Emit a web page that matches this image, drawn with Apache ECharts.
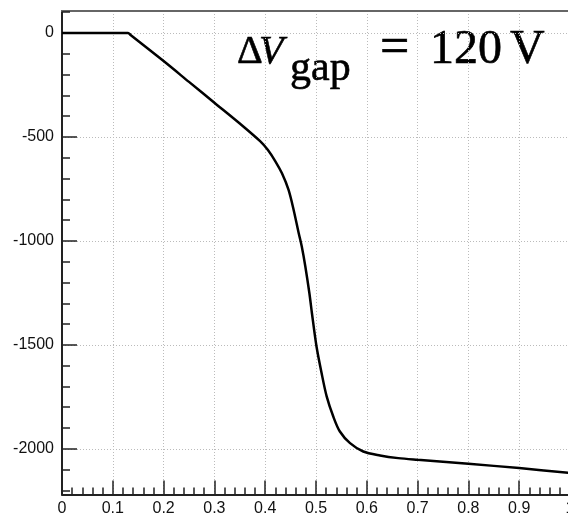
<!DOCTYPE html>
<html>
<head>
<meta charset="utf-8">
<script src="https://cdn.jsdelivr.net/npm/echarts@6/dist/echarts.min.js"></script>
<style>
html,body{margin:0;padding:0;background:#fff;}
#c{width:568px;height:515px;}
</style>
</head>
<body>
<div id="c"></div>
<script>
var xValues = [0, 0.125, 0.13, 0.135, 0.2, 0.25, 0.3, 0.35, 0.39, 0.405, 0.42, 0.433, 0.446, 0.456, 0.466, 0.472, 0.479, 0.487, 0.492, 0.501, 0.511, 0.521, 0.534, 0.547, 0.567, 0.593, 0.626, 0.662, 0.70, 0.80, 0.90, 1.0];
var yValues = [0, 0, 0, -9, -135, -235, -335, -435, -520, -562, -617, -675, -755, -851, -963, -1027, -1123, -1252, -1348, -1508, -1636, -1748, -1845, -1917, -1973, -2013, -2032, -2045, -2053, -2072, -2093, -2116];
var yMajorTicks = [-2000, -1500, -1000, -500, 0];
var yMinorTicks = [-2200, -2100, -1900, -1800, -1700, -1600, -1400, -1300, -1200, -1100, -900, -800, -700, -600, -400, -300, -200, -100, 100];
var yMin = -2220, yMax = 106;

var chart = echarts.init(document.getElementById('c'), null, {renderer: 'canvas'});
var data = xValues.map(function (x, i) { return [x, yValues[i]]; });
var labelFont = {fontFamily: 'Liberation Sans', fontSize: 16, color: '#111'};
var serif = 'Liberation Serif';
function txt(t, x, y, size, italic) {
  return {type: 'text', x: x, y: y, style: {text: t, fontFamily: serif, fontStyle: italic ? 'italic' : 'normal', fontSize: size, fill: '#000', stroke: '#000', lineWidth: 0.6, textAlign: 'left', textVerticalAlign: 'middle'}};
}

chart.setOption({
  animation: false,
  grid: {left: 62, top: 11, width: 508, bottom: 20.5, containLabel: false, outerBoundsMode: 'none'},
  xAxis: [{
    type: 'value', min: 0, max: 1, interval: 0.1,
    axisLine: {show: true, onZero: false, lineStyle: {color: '#222', width: 2}},
    axisTick: {show: true, inside: true, length: 14, lineStyle: {color: '#222', width: 1.5}},
    minorTick: {show: true, splitNumber: 5, length: 7, lineStyle: {color: '#222', width: 1.5}},
    axisLabel: Object.assign({margin: 6, formatter: function (v) { return String(Math.round(v * 10) / 10); }, showMinLabel: true, showMaxLabel: true}, labelFont),
    splitLine: {show: true, lineStyle: {color: '#bbb', type: [1, 2], width: 1}}
  }, {
    type: 'value', min: 0, max: 1, position: 'top',
    axisLine: {show: true, onZero: false, lineStyle: {color: '#666', width: 2}},
    axisTick: {show: false}, axisLabel: {show: false}, splitLine: {show: false}
  }],
  yAxis: [{
    type: 'value', min: yMin, max: yMax, position: 'left',
    axisLine: {show: true, onZero: false, lineStyle: {color: '#222', width: 2}},
    axisTick: {show: true, inside: true, length: 15, customValues: yMajorTicks, lineStyle: {color: '#222', width: 1.5}},
    axisLabel: Object.assign({margin: 8, customValues: yMajorTicks, formatter: function (v) { return String(v); }}, labelFont),
    splitLine: {show: true, lineStyle: {color: '#bbb', type: [1, 2], width: 1}}
  }, {
    type: 'value', min: yMin, max: yMax, position: 'left', offset: 0,
    axisLine: {show: false, onZero: false},
    axisTick: {show: true, inside: true, length: 8, customValues: yMinorTicks, lineStyle: {color: '#222', width: 1.5}},
    axisLabel: {show: false}, splitLine: {show: false}
  }],
  series: [{
    type: 'line', data: data, showSymbol: false, symbol: 'none', smooth: 0.3,
    lineStyle: {color: '#000', width: 2.5}, xAxisIndex: 0, yAxisIndex: 0
  }],
  graphic: [
    txt('Δ', 237, 52, 40, false),
    txt('V', 259, 52, 40, true),
    txt('gap', 290, 69, 42, false),
    txt('=', 380, 49, 52, false),
    txt('120', 430, 50.5, 48, false),
    txt('V', 510, 50.5, 48, false)
  ]
});
</script>
</body>
</html>
